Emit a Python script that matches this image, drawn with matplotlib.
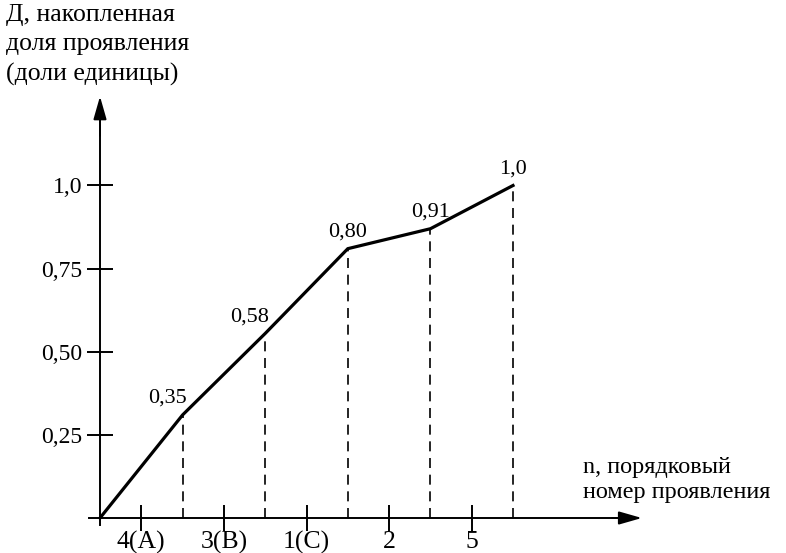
import matplotlib.pyplot as plt
import numpy as np

# Данные диаграммы Парето
groups = ['4(A)', '3(B)', '1(C)', '2', '5']
cum_share = [0.0, 0.31, 0.555, 0.81, 0.87, 1.0]   # положение точек на рисунке
point_labels = ['0,35', '0,58', '0,80', '0,91', '1,0']
y_ticks = [0.25, 0.50, 0.75, 1.0]
y_tick_labels = ['0,25', '0,50', '0,75', '1,0']

plt.rcParams['font.family'] = ['Liberation Serif', 'DejaVu Serif']

fig = plt.figure(figsize=(7.86, 5.53), dpi=100)
ax = fig.add_axes([0, 0, 1, 1])

# масштаб: 1 единица по x = 82.6 px, начало в (100, 518) px
px_x = 82.6
px_y = 332.5
ax.set_xlim(-100 / px_x, (786 - 100) / px_x)
ax.set_ylim(-(553 - 518) / px_y, 518 / px_y)

for s in ['top', 'right']:
    ax.spines[s].set_visible(False)
ax.spines['left'].set_position(('data', 0))
ax.spines['bottom'].set_position(('data', 0))
ax.spines['left'].set_bounds(-0.02, 1.2)
ax.spines['bottom'].set_bounds(-0.13, 6.3)
for s in ['left', 'bottom']:
    ax.spines[s].set_linewidth(1.4)

# стрелки осей
ax.annotate('', xy=(0, 1.268), xytext=(0, 1.15),
            arrowprops=dict(arrowstyle='-|>,head_length=1.4,head_width=0.4',
                            color='black', lw=1.4, shrinkA=0, shrinkB=0))
ax.annotate('', xy=(6.56, 0), xytext=(6.2, 0),
            arrowprops=dict(arrowstyle='-|>,head_length=1.4,head_width=0.4',
                            color='black', lw=1.4, shrinkA=0, shrinkB=0))

x = np.arange(len(cum_share))
ax.set_xticks(x[:-1] + 0.5)
ax.set_xticklabels(groups)
ax.set_yticks(y_ticks)
ax.set_yticklabels(y_tick_labels)
ax.tick_params(axis='both', direction='inout', length=19, width=1.4,
               color='black')
ax.tick_params(axis='x', pad=0, labelsize=18.5)
ax.tick_params(axis='y', pad=3, labelsize=17)

# вертикальные пунктирные линии
for xi, yi in zip(x[1:], cum_share[1:]):
    ax.plot([xi, xi], [0, yi], color='black', lw=1.2, ls=(0, (6, 4)))

# кумулятивная кривая
ax.plot(x, cum_share, color='black', lw=2.3, solid_joinstyle='miter')

# подписи точек
for i, (xi, yi, lab) in enumerate(zip(x[1:], cum_share[1:], point_labels)):
    if i < 2:
        ax.annotate(lab, (xi, yi), xytext=(3, 5), textcoords='offset points',
                    ha='right', va='bottom', fontsize=16)
    else:
        ax.annotate(lab, (xi, yi), xytext=(0, 5), textcoords='offset points',
                    ha='center', va='bottom', fontsize=16)

# подписи осей
ax.text(6 / 786, 1 - 4 / 553, 'Д, накопленная\nдоля проявления\n(доли единицы)',
        transform=ax.transAxes, ha='left', va='top', fontsize=18.5, linespacing=1.42)
ax.text(583 / 786, 1 - 457 / 553, 'n, порядковый\nномер проявления',
        transform=ax.transAxes, ha='left', va='top', fontsize=17.5, linespacing=1.25)

fig.savefig('out.png', dpi=100)
